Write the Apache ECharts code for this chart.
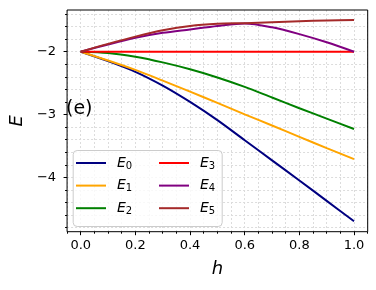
<!DOCTYPE html>
<html>
<head>
<meta charset="utf-8">
<script src="https://cdn.jsdelivr.net/npm/echarts@6/dist/echarts.min.js"></script>
<style>html,body{margin:0;padding:0;background:#fff;}#c{width:376px;height:290px;}</style>
</head>
<body>
<div id="c"></div>
<script>
const hValues = [0, 0.1, 0.2, 0.3, 0.4, 0.5, 0.6, 0.7, 0.8, 0.9, 1.0];
const E0 = [-2, -2.15, -2.32, -2.54, -2.80, -3.09, -3.41, -3.73, -4.05, -4.375, -4.70];
const E1 = [-2, -2.14, -2.29, -2.46, -2.635, -2.815, -2.997, -3.175, -3.355, -3.535, -3.71];
const E2 = [-2, -2.02, -2.08, -2.17, -2.28, -2.41, -2.56, -2.73, -2.90, -3.065, -3.23];
const E3 = [-2, -2, -2, -2, -2, -2, -2, -2, -2, -2, -2];
const E4 = [-2, -1.885, -1.78, -1.70, -1.645, -1.59, -1.55, -1.612, -1.72, -1.85, -2.0];
const E5 = [-2, -1.875, -1.76, -1.66, -1.59, -1.556, -1.545, -1.53, -1.515, -1.503, -1.495];
const seriesNames = ['E0', 'E1', 'E2', 'E3', 'E4', 'E5'];
const seriesColors = ['#000080', '#FFA500', '#008000', '#FF0000', '#800080', '#A52A2A'];
const xMajorTicks = [0, 0.2, 0.4, 0.6, 0.8, 1.0];
const xMinorTicks = [-0.05, 0, 0.05, 0.1, 0.15, 0.2, 0.25, 0.3, 0.35, 0.4, 0.45, 0.5, 0.55, 0.6, 0.65, 0.7, 0.75, 0.8, 0.85, 0.9, 0.95, 1.0, 1.05];
const yMajorTicks = [-4, -3, -2];
const yMinorTicks = [-4.8, -4.6, -4.4, -4.2, -4.0, -3.8, -3.6, -3.4, -3.2, -3.0, -2.8, -2.6, -2.4, -2.2, -2.0, -1.8, -1.6, -1.4];
const xRange = [-0.05, 1.05];
const yRange = [-4.866, -1.336];

const allValues = [E0, E1, E2, E3, E4, E5];
const FONT = 'DejaVu Sans';
const gridLine = {show: true, lineStyle: {color: '#dcdcdc', width: 1, type: [2, 2]}};

const series = allValues.map((vals, i) => ({
  name: seriesNames[i],
  type: 'line',
  data: hValues.map((h, k) => [h, vals[k]]),
  smooth: 0.3,
  symbol: 'none',
  lineStyle: {width: 2, color: seriesColors[i]},
  itemStyle: {color: seriesColors[i]},
  xAxisIndex: 0,
  yAxisIndex: 0,
  z: 5 + i
}));

const legendFmt = name => '{e|E}{s|' + name.slice(1) + '}';
const legendText = {
  fontFamily: FONT,
  rich: {
    e: {fontStyle: 'italic', fontSize: 14, fontFamily: FONT, color: '#000', padding: [0, 0, 0, 6]},
    s: {fontSize: 10, fontFamily: FONT, color: '#000', padding: [6, 0, 0, 0]}
  }
};
const legendBase = {
  orient: 'vertical',
  icon: 'rect',
  itemWidth: 30,
  itemHeight: 2,
  itemGap: 7.6,
  formatter: legendFmt,
  textStyle: legendText,
  z: 20,
  padding: 0
};

const chart = echarts.init(document.getElementById('c'), null, {renderer: 'canvas'});
chart.setOption({
  animation: false,
  backgroundColor: '#fff',
  grid: {left: 65, top: 10, right: 8.3, bottom: 58.3, show: true, borderColor: '#000', borderWidth: 1, backgroundColor: 'transparent', z: 30},
  xAxis: [
    {
      type: 'value', min: xRange[0], max: xRange[1], position: 'bottom',
      axisLine: {show: false, onZero: false},
      axisTick: {show: true, customValues: xMinorTicks, length: 2, lineStyle: {color: '#000'}},
      axisLabel: {show: false},
      splitLine: gridLine
    },
    {
      type: 'value', min: xRange[0], max: xRange[1], position: 'bottom',
      axisLine: {show: false, onZero: false},
      axisTick: {show: true, customValues: xMajorTicks, length: 3.5, lineStyle: {color: '#000'}},
      axisLabel: {show: true, customValues: xMajorTicks, margin: 7, color: '#000', fontSize: 13, fontFamily: FONT,
        formatter: v => v.toFixed(1)},
      splitLine: {show: false},
      name: 'h', nameLocation: 'middle', nameGap: 29,
      nameTextStyle: {fontStyle: 'italic', fontSize: 18, fontFamily: FONT, color: '#000'}
    }
  ],
  yAxis: [
    {
      type: 'value', min: yRange[0], max: yRange[1], position: 'left',
      axisLine: {show: false, onZero: false},
      axisTick: {show: true, customValues: yMinorTicks, length: 2, lineStyle: {color: '#000'}},
      axisLabel: {show: false},
      splitLine: gridLine
    },
    {
      type: 'value', min: yRange[0], max: yRange[1], position: 'left',
      axisLine: {show: false, onZero: false},
      axisTick: {show: true, customValues: yMajorTicks, length: 3.5, lineStyle: {color: '#000'}},
      axisLabel: {show: true, customValues: yMajorTicks, margin: 11, color: '#000', fontSize: 13, fontFamily: FONT,
        formatter: v => String(Math.round(v)).replace('-', '\u2212')},
      splitLine: {show: false},
      name: 'E', nameLocation: 'middle', nameGap: 32,
      nameTextStyle: {fontStyle: 'italic', fontSize: 18, fontFamily: FONT, color: '#000'}
    }
  ],
  legend: [
    Object.assign({}, legendBase, {data: seriesNames.slice(0, 3), left: 76, top: 156}),
    Object.assign({}, legendBase, {data: seriesNames.slice(3, 6), left: 159, top: 156})
  ],
  graphic: [
    {type: 'rect', left: 72.7, top: 150, z: 15,
      shape: {width: 149, height: 76, r: 4},
      style: {fill: 'rgba(255,255,255,0.8)', stroke: '#cccccc', lineWidth: 1}},
    {type: 'text', left: 66, top: 100, z: 20,
      style: {text: '(e)', fontSize: 19, fontFamily: FONT, fill: '#000'}}
  ],
  series: series
});
</script>
</body>
</html>
